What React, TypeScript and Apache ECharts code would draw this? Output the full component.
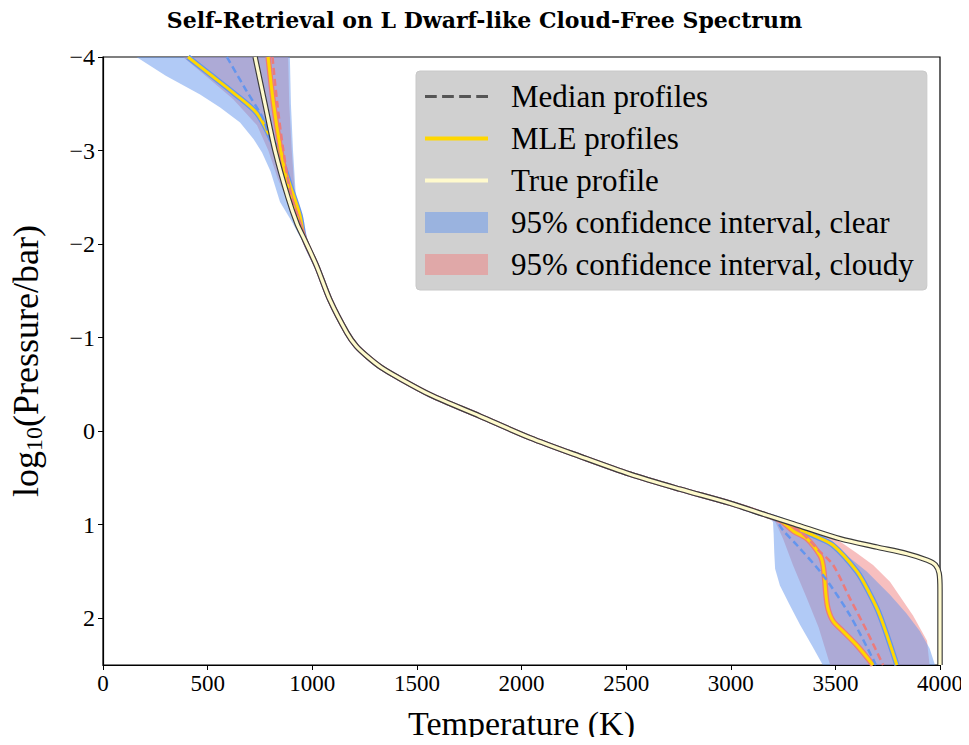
import React, { useEffect, useRef } from 'react';
import * as echarts from 'echarts';

type Pt = [number, number];

// Shared middle part of all profiles (Temperature K, log10 P/bar)
const SHARED_MID: Pt[] = [[965, -2.04], [1022, -1.76], [1085, -1.4], [1166, -1.05], [1210, -0.91], [1262, -0.8], [1330, -0.68], [1405, -0.58], [1563, -0.39], [1802, -0.16], [2040, 0.07], [2280, 0.27], [2519, 0.46], [2757, 0.62], [2996, 0.77], [3173, 0.9]];

const TRUE_TOP: Pt[] = [[727, -4], [774, -3.5], [822, -3], [884, -2.5], [927, -2.22]];
const TRUE_BOTTOM: Pt[] = [[3300, 0.99], [3522, 1.15], [3700, 1.24], [3842, 1.31], [3940, 1.38], [3978, 1.43], [3996, 1.52], [4000, 1.7], [4000, 2.5]];

const CLEAR_MLE_TOP: Pt[] = [[406, -4], [520, -3.8], [622, -3.62], [735, -3.4], [812, -3.09], [846, -2.95], [894, -2.63], [941, -2.31]];
const CLEAR_MLE_BOTTOM: Pt[] = [[3250, 0.96], [3283, 1.01], [3400, 1.12], [3489, 1.22], [3603, 1.5], [3660, 1.72], [3713, 1.97], [3794, 2.5]];

const CLOUDY_MLE_TOP: Pt[] = [[789, -4], [815, -3.5], [850, -3.0], [895, -2.5], [940, -2.2]];
const CLOUDY_MLE_BOTTOM: Pt[] = [[3240, 0.96], [3300, 1.07], [3364, 1.15], [3427, 1.33], [3441, 1.43], [3450, 1.61], [3455, 1.75], [3465, 1.9], [3489, 2.03], [3537, 2.14], [3603, 2.29], [3680, 2.5]];

const CLEAR_MED_TOP: Pt[] = [[592, -4], [680, -3.66], [765, -3.34], [800, -3.1], [825, -2.95], [884, -2.5], [927, -2.22]];
const CLEAR_MED_BOTTOM: Pt[] = [[3215, 0.95], [3250, 1.06], [3317, 1.22], [3441, 1.54], [3570, 1.97], [3694, 2.5]];

const CLOUDY_MED_TOP: Pt[] = [[810, -4], [833, -3.5], [862, -3.0], [900, -2.5], [945, -2.2]];
const CLOUDY_MED_BOTTOM: Pt[] = [[3280, 1.0], [3331, 1.07], [3427, 1.29], [3489, 1.43], [3570, 1.79], [3651, 2.14], [3728, 2.5]];

const CLEAR_TOP_LEFT: Pt[] = [[160, -4], [300, -3.8], [464, -3.6], [560, -3.46], [655, -3.3], [720, -3.12], [760, -2.98], [800, -2.78], [846, -2.45], [900, -2.25], [960, -2.0]];
const CLEAR_TOP_RIGHT: Pt[] = [[893, -4], [898, -3.5], [908, -3], [922, -2.5], [940, -2.2], [960, -2.0]];
const CLOUDY_TOP_LEFT: Pt[] = [[382, -4], [500, -3.78], [621, -3.55], [736, -3.27], [790, -3.0], [835, -2.7], [893, -2.4], [927, -2.2], [960, -2.0]];
const CLOUDY_TOP_RIGHT: Pt[] = [[885, -4], [890, -3.5], [902, -3], [918, -2.5], [938, -2.2], [960, -2.0]];

const CLEAR_BOT_LEFT: Pt[] = [[3173, 0.9], [3202, 0.97], [3205, 1.1], [3208, 1.3], [3212, 1.47], [3235, 1.65], [3280, 1.85], [3331, 2.07], [3390, 2.3], [3440, 2.5]];
const CLEAR_BOT_RIGHT: Pt[] = [[3173, 0.9], [3250, 0.96], [3400, 1.1], [3522, 1.27], [3650, 1.5], [3761, 1.75], [3840, 1.95], [3904, 2.14], [3950, 2.32], [3976, 2.5]];
const CLOUDY_BOT_LEFT: Pt[] = [[3173, 0.9], [3215, 0.98], [3250, 1.15], [3297, 1.43], [3364, 1.79], [3420, 2.1], [3475, 2.5]];
const CLOUDY_BOT_RIGHT: Pt[] = [[3173, 0.9], [3260, 0.97], [3364, 1.04], [3522, 1.18], [3600, 1.3], [3680, 1.43], [3761, 1.61], [3871, 1.97], [3938, 2.24], [3950, 2.5]];

const LEGEND_NAMES = ['Median profiles', 'MLE profiles', 'True profile', '95% confidence interval, clear', '95% confidence interval, cloudy'];

const SERIF = '"Liberation Serif", "DejaVu Serif", serif';
const BLUE = '#6495ED';
const RED = '#EC7B7B';
const GOLD = '#FFD700';
const CREAM = '#FFFACD';

const poly = (left: Pt[], right: Pt[]): Pt[] => left.concat(right.slice().reverse());
const profile = (top: Pt[], bottom: Pt[]): Pt[] => top.concat(SHARED_MID, bottom);

function band(name: string, pts: Pt[], color: string) {
  return {
    type: 'custom',
    name,
    coordinateSystem: 'cartesian2d',
    data: pts,
    itemStyle: { color },
    clip: true,
    silent: true,
    renderItem: (params: any, api: any) => {
      if (params.dataIndex !== 0) return null;
      const points = pts.map((p) => api.coord(p));
      return { type: 'polygon', shape: { points }, style: { fill: color } };
    },
  };
}

function line(name: string, pts: Pt[], color: string, width: number, dashed = false) {
  return {
    type: 'line',
    name,
    data: pts,
    showSymbol: false,
    symbol: 'none',
    smooth: 0.3,
    silent: true,
    lineStyle: { color, width, type: dashed ? [7, 4] : 'solid', cap: 'butt' },
    itemStyle: { color },
  };
}

export default function App() {
  const ref = useRef<HTMLDivElement>(null);
  useEffect(() => {
    if (!ref.current) return;
    const chart = echarts.init(ref.current, undefined, { renderer: 'svg' });
    const trueP = profile(TRUE_TOP, TRUE_BOTTOM);
    const clearMle = profile(CLEAR_MLE_TOP, CLEAR_MLE_BOTTOM);
    const cloudyMle = profile(CLOUDY_MLE_TOP, CLOUDY_MLE_BOTTOM);
    const clearMed = profile(CLEAR_MED_TOP, CLEAR_MED_BOTTOM);
    const cloudyMed = profile(CLOUDY_MED_TOP, CLOUDY_MED_BOTTOM);
    const option: any = {
      animation: false,
      title: {
        text: 'Self-Retrieval on L Dwarf-like Cloud-Free Spectrum',
        left: 'center',
        top: 4,
        textStyle: { fontFamily: '"DejaVu Serif", serif', fontWeight: 'bold', fontSize: 22, color: '#000' },
      },
      grid: { left: 103, right: 29, top: 57, bottom: 78, show: true, borderColor: '#000', borderWidth: 1.2, backgroundColor: 'transparent' },
      legend: {
        orient: 'vertical',
        left: 416,
        top: 71,
        padding: [10, 13, 10, 9],
        itemWidth: 63,
        itemHeight: 21,
        itemGap: 11,
        backgroundColor: 'rgba(200,200,200,0.85)',
        borderColor: '#c8c8c8',
        borderWidth: 1,
        borderRadius: 4,
        selectedMode: false,
        textStyle: { fontFamily: SERIF, fontSize: 31, color: '#000', padding: [0, 0, 0, 18] },
        data: [
          { name: LEGEND_NAMES[0], icon: 'path://M0,0h11v3H0z M16,0h11v3H16z M32,0h11v3H32z M48,0h11v3H48z' },
          { name: LEGEND_NAMES[1], icon: 'path://M0,0h62v4H0z' },
          { name: LEGEND_NAMES[2], icon: 'path://M0,0h62v4H0z' },
          { name: LEGEND_NAMES[3], icon: 'rect' },
          { name: LEGEND_NAMES[4], icon: 'rect' },
        ],
      },
      xAxis: {
        type: 'value',
        min: 0,
        max: 4000,
        interval: 500,
        name: 'Temperature (K)',
        nameLocation: 'middle',
        nameGap: 41,
        nameTextStyle: { fontFamily: SERIF, fontSize: 34, color: '#000' },
        axisLine: { show: true, onZero: false, lineStyle: { color: '#000', width: 1.2 } },
        axisTick: { show: true, length: 5, lineStyle: { color: '#000', width: 1 } },
        axisLabel: { fontFamily: SERIF, fontSize: 23, color: '#000', margin: 7, formatter: (v: number) => String(v) },
        splitLine: { show: false },
      },
      yAxis: {
        type: 'value',
        inverse: true,
        min: -4,
        max: 2.5,
        interval: 1,
        name: '{a|log}{sub|10}{a|(Pressure/bar)}',
        nameLocation: 'middle',
        nameGap: 57,
        nameRotate: 90,
        nameTextStyle: {
          color: '#000',
          rich: {
            a: { fontFamily: SERIF, fontSize: 36, lineHeight: 40, color: '#000' },
            sub: { fontFamily: SERIF, fontSize: 24, lineHeight: 24, verticalAlign: 'bottom', color: '#000' },
          },
        },
        axisLine: { show: true, onZero: false, lineStyle: { color: '#000', width: 1.2 } },
        axisTick: { show: true, length: 5, lineStyle: { color: '#000', width: 1 } },
        axisLabel: {
          fontFamily: SERIF,
          fontSize: 24,
          color: '#000',
          margin: 8,
          showMaxLabel: false,
          formatter: (v: number) => (v < 0 ? '\u2212' + Math.abs(v) : String(v)),
        },
        splitLine: { show: false },
      },
      series: [
        band(LEGEND_NAMES[4], poly(CLOUDY_TOP_LEFT, CLOUDY_TOP_RIGHT), 'rgba(240,128,128,0.5)'),
        band(LEGEND_NAMES[4], poly(CLOUDY_BOT_LEFT, CLOUDY_BOT_RIGHT), 'rgba(240,128,128,0.5)'),
        band(LEGEND_NAMES[3], poly(CLEAR_TOP_LEFT, CLEAR_TOP_RIGHT), 'rgba(100,149,237,0.5)'),
        band(LEGEND_NAMES[3], poly(CLEAR_BOT_LEFT, CLEAR_BOT_RIGHT), 'rgba(100,149,237,0.5)'),
        line('clear MLE edge', clearMle, BLUE, 5.5),
        line('clear MLE', clearMle, GOLD, 3),
        line('cloudy MLE edge', cloudyMle, RED, 5.5),
        line('cloudy MLE', cloudyMle, GOLD, 3),
        line('clear median', clearMed, BLUE, 2.5, true),
        line('cloudy median', cloudyMed, RED, 2.5, true),
        line('true edge', trueP, '#3a3a3a', 5.5),
        line('true', trueP, CREAM, 3.2),
        { type: 'line', name: LEGEND_NAMES[0], data: [], itemStyle: { color: '#555555' } },
        { type: 'line', name: LEGEND_NAMES[1], data: [], itemStyle: { color: GOLD } },
        { type: 'line', name: LEGEND_NAMES[2], data: [], itemStyle: { color: CREAM } },
      ],
    };
    chart.setOption(option);
    return () => chart.dispose();
  }, []);
  return <div ref={ref} style={{ width: 969, height: 745, margin: -8 }} />;
}
